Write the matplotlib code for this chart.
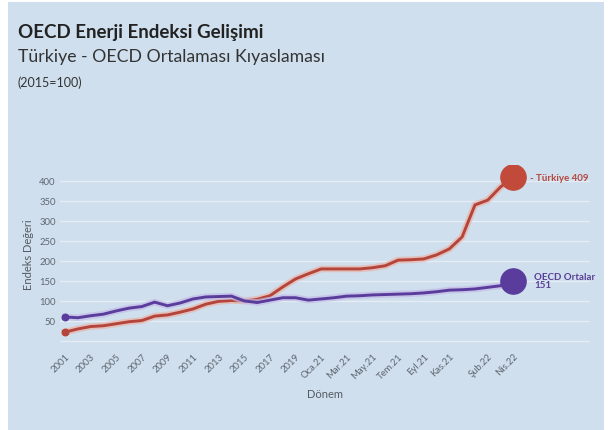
import matplotlib as mpl
mpl.use('Agg')
import matplotlib.pyplot as plt
import matplotlib.patheffects as pe

# kategoriler: 2001-2020 yillik, sonra aylik Oca.21 - Nis.22
years = [str(y) for y in range(2001, 2021)]
months21 = ['Oca.21', 'Şub.21', 'Mar.21', 'Nis.21', 'May.21', 'Haz.21',
            'Tem.21', 'Ağu.21', 'Eyl.21', 'Eki.21', 'Kas.21', 'Ara.21']
months22 = ['Oca.22', 'Şub.22', 'Mar.22', 'Nis.22']
donem = years + months21 + months22

turkiye = [22, 30, 36, 38, 43, 48, 51, 62, 65, 72, 80, 92, 99, 101, 100, 104,
           113, 135, 155, 168, 180, 180, 180, 180, 183, 188, 202, 203, 205, 215,
           230, 260, 340, 352, 385, 409]
oecd = [60, 58, 63, 67, 75, 82, 86, 97, 88, 95, 105, 110, 111, 112, 100, 96,
        102, 108, 108, 102, 105, 108, 112, 113, 115, 116, 117, 118, 120, 123,
        127, 128, 130, 134, 138, 151]

tick_labels = ['2001', '2003', '2005', '2007', '2009', '2011', '2013', '2015', '2017', '2019',
               'Oca.21', 'Mar.21', 'May.21', 'Tem.21', 'Eyl.21', 'Kas.21', 'Şub.22', 'Nis.22']
y_ticks = [0, 50, 100, 150, 200, 250, 300, 350, 400]

plt.rcParams['font.family'] = ['Lato', 'DejaVu Sans']

bg = '#cfdfed'
red = '#b5443a'
purple = '#5a3c9c'

fig = plt.figure(figsize=(6.11, 4.31), dpi=100, facecolor='white')
fig.patches.append(plt.Rectangle((8/611, 0), 596/611, 428/431, transform=fig.transFigure,
                                 facecolor=bg, edgecolor='none', zorder=-10))

ax = fig.add_axes([0.098, 0.202, 0.868, 0.413])
ax.set_facecolor(bg)
ax.patch.set_alpha(0)

x = list(range(len(donem)))
glow_r = [pe.Stroke(linewidth=4.8, foreground='#eab3a8', alpha=0.7), pe.Normal()]
glow_p = [pe.Stroke(linewidth=4.8, foreground='#c3bbe8', alpha=0.7), pe.Normal()]
ax.plot(x, turkiye, color=red, linewidth=2.1, path_effects=glow_r, zorder=3, solid_joinstyle='round')
ax.plot(x, oecd, color=purple, linewidth=2.1, path_effects=glow_p, zorder=3, solid_joinstyle='round')

# baslangic ve bitis noktalari
ax.scatter([x[0]], [turkiye[0]], s=22, color=red, zorder=4)
ax.scatter([x[0]], [oecd[0]], s=22, color=purple, zorder=4)
ax.scatter([x[-1]], [turkiye[-1]], s=330, color='#c24a3a', zorder=5)
ax.scatter([x[-1]], [oecd[-1]], s=330, color=purple, zorder=5)

ax.annotate('- Türkiye %d' % turkiye[-1], (x[-1], turkiye[-1]), xytext=(12, 0),
            textcoords='offset points', va='center', ha='left',
            fontsize=7, fontweight='bold', color='#b5473f')
ax.annotate('OECD Ortalar\n%d' % oecd[-1], (x[-1], oecd[-1]), xytext=(15, 0),
            textcoords='offset points', va='center', ha='left', linespacing=0.95,
            fontsize=7, fontweight='bold', color='#5b3f96')

ax.set_xlim(-0.4, 41)
ax.set_ylim(-5, 440)
ax.set_yticks(y_ticks)
ax.set_yticklabels([''] + [str(v) for v in y_ticks[1:]])
ax.set_xticks([donem.index(t) for t in tick_labels])
ax.set_xticklabels(tick_labels, rotation=45, ha='right', rotation_mode='anchor')
ax.tick_params(axis='both', length=0, labelsize=6.8, labelcolor='#5f6670')
ax.tick_params(axis='x', pad=6)
ax.tick_params(axis='y', pad=3)
ax.grid(axis='y', color='#e4edf6', linewidth=1)
ax.grid(axis='x', visible=False)
for s in ax.spines.values():
    s.set_visible(False)

ax.set_ylabel('Endeks Değeri', fontsize=8, color='#555b63', labelpad=4)
ax.set_xlabel('Dönem', fontsize=8, color='#555b63', labelpad=6)

fig.text(18/611, 1 - 38/431, 'OECD Enerji Endeksi Gelişimi', fontsize=13.5, fontweight='bold',
         color='#222222', va='baseline')
fig.text(18/611, 1 - 62/431, 'Türkiye - OECD Ortalaması Kıyaslaması', fontsize=12.7,
         color='#333333', va='baseline')
fig.text(18/611, 1 - 87/431, '(2015=100)', fontsize=9, color='#333333', va='baseline')

plt.savefig('out.png', dpi=100, facecolor='white')
